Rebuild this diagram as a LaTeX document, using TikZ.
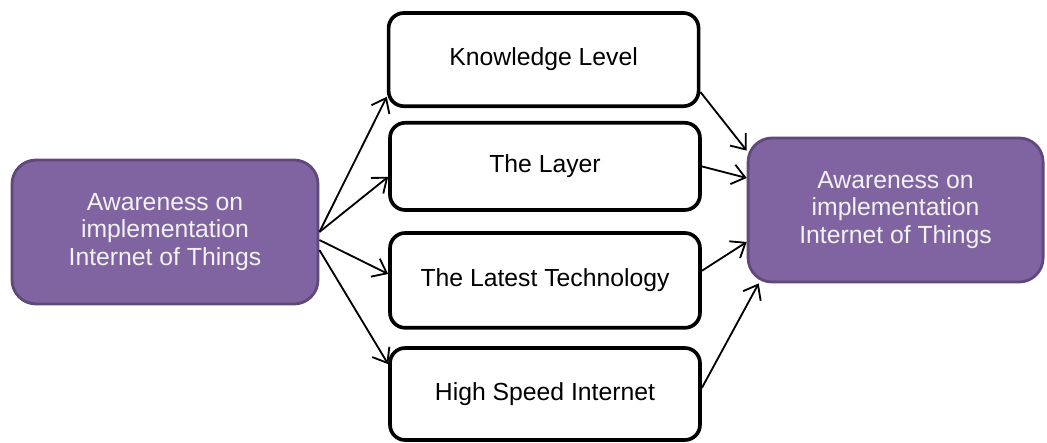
\documentclass[tikz,border=0pt]{standalone}
\usepackage{fontspec}
\setmainfont{Liberation Sans}
\usepackage{tikz}
\usepackage{xcolor}
\usetikzlibrary{arrows.meta, positioning}

\definecolor{awfill}{HTML}{8064A2}
\definecolor{awline}{HTML}{5F497A}
\definecolor{awtext}{HTML}{F2F2F2}

\begin{document}
\begin{tikzpicture}[
    awbox/.style={rectangle, rounded corners=0.6cm, draw=awline, line width=2pt, fill=awfill, text=awtext, align=center, minimum height=3.6cm, font=\fontsize{17.6}{19.6}\selectfont},
    factorbox/.style={rectangle, rounded corners=0.38cm, draw=black, line width=2.6pt, fill=white, minimum width=7.75cm, font=\fontsize{17.6}{20}\selectfont},
    link/.style={-{Straight Barb[length=0.32cm, width=0.5cm]}, line width=1.3pt}
]
\useasboundingbox (0,0) rectangle (26.175,11.05);

\node[awbox, minimum width=7.65cm] at (4.125,5.25) (aware) {Awareness on\\implementation\\Internet of Things};
\node[awbox, minimum width=7.375cm] at (22.39,5.8) (impl) {Awareness on\\implementation\\Internet of Things};

\node[factorbox, minimum height=2.33cm] at (13.59,9.56) (know) {Knowledge Level};
\node[factorbox, minimum height=2.18cm] at (13.625,6.89) (layer) {The Layer};
\node[factorbox, minimum height=2.37cm] at (13.625,4.04) (tech) {The Latest Technology};
\node[factorbox, minimum height=2.3cm] at (13.625,1.2) (speed) {High Speed Internet};

% arrows out of the left box
\draw[link] (aware.east) -- ([yshift=0.28cm]know.south west);
\draw[link] (aware.east) -- ([yshift=-0.26cm]layer.west);
\draw[link] ([yshift=-0.2cm]aware.east) -- ([yshift=0.16cm]tech.west);
\draw[link] ([yshift=-0.45cm]aware.east) -- ([yshift=-0.45cm]speed.north west);

% arrows into the right box
\draw[link] ([yshift=0.4cm]know.south east) -- ([yshift=-0.35cm]impl.north west);
\draw[link] (layer.east) -- ([yshift=0.8cm]impl.west);
\draw[link] ([yshift=0.24cm]tech.east) -- ([yshift=-0.8cm]impl.west);
\draw[link] ([yshift=0.15cm]speed.east) -- ([xshift=0.3cm]impl.south west);
\end{tikzpicture}
\end{document}
